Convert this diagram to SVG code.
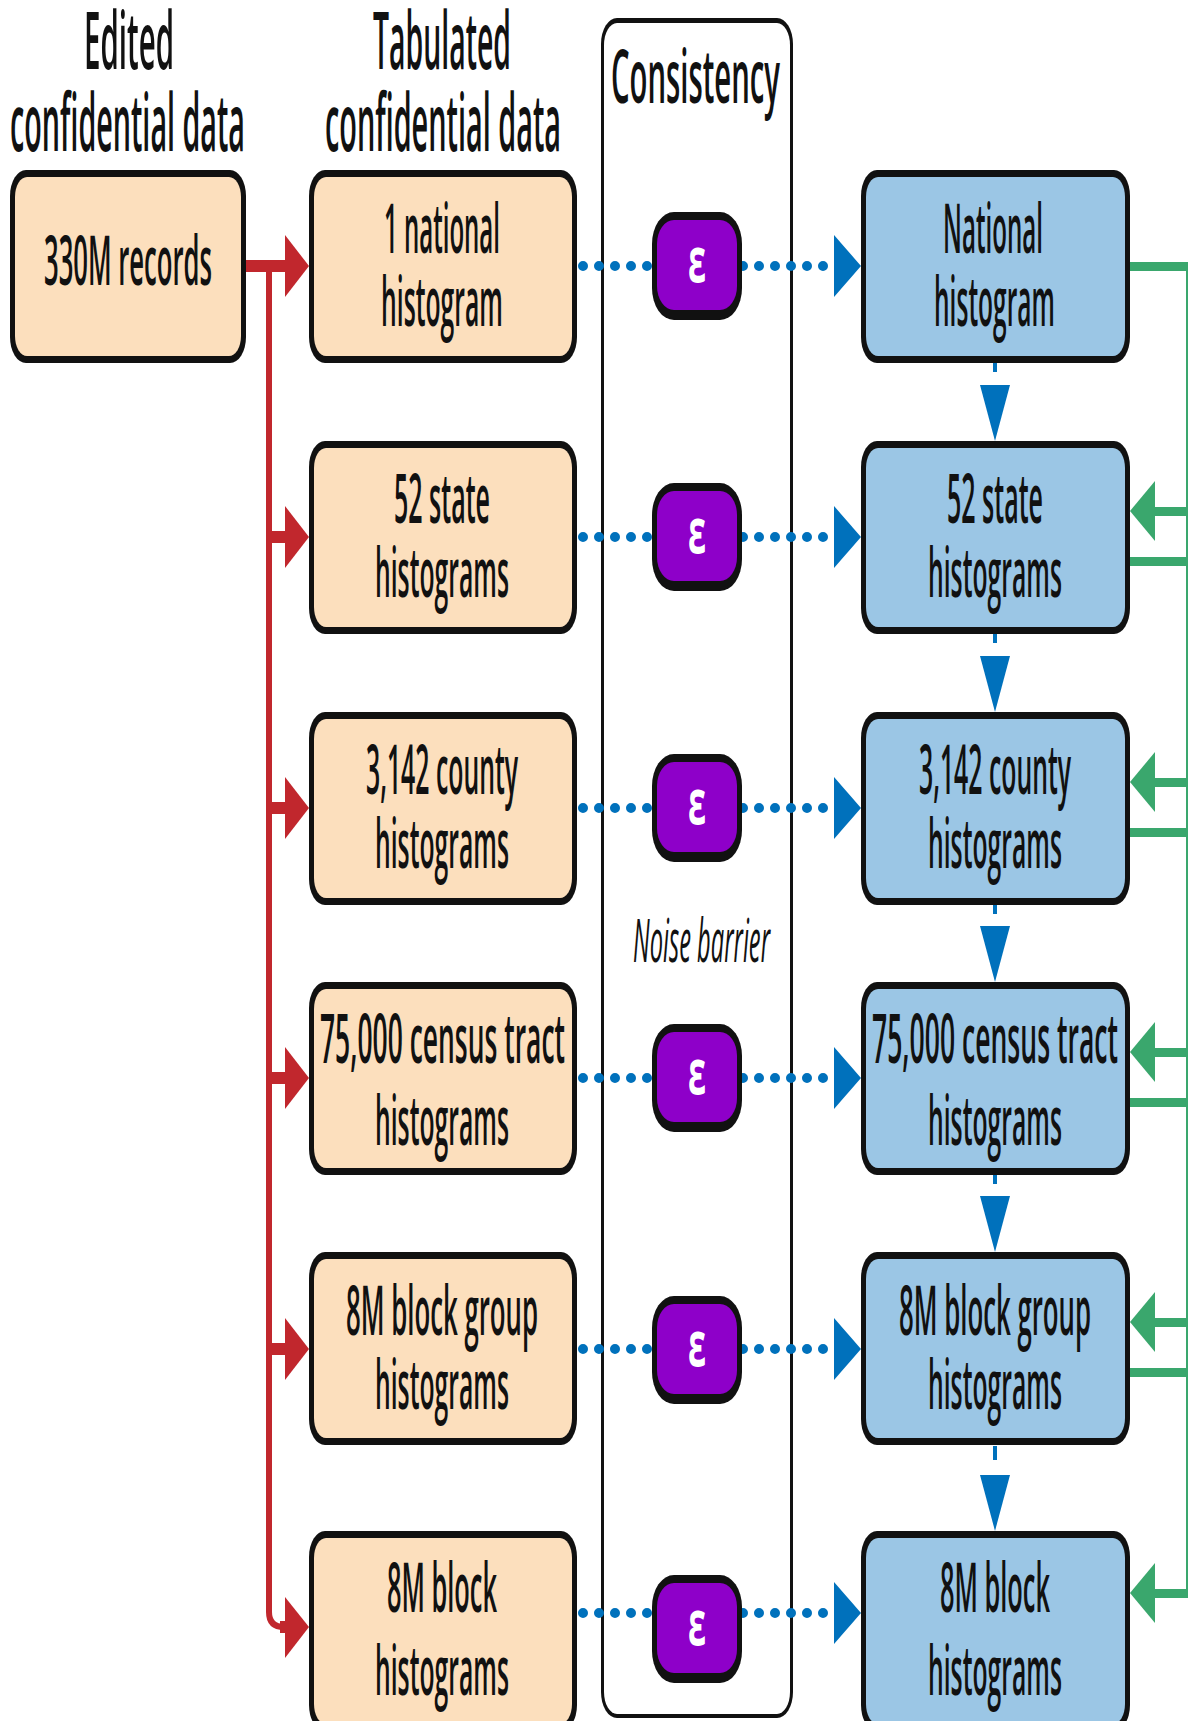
<svg xmlns="http://www.w3.org/2000/svg" width="1188" height="1721" viewBox="0 0 1188 1721">
<style>
.hdr{font-family:"Open Sans","Liberation Sans",sans-serif;font-weight:600;font-size:79px;fill:#111}
.lbl{font-family:"Open Sans","Liberation Sans",sans-serif;font-weight:600;font-size:69px;fill:#111}
.eps{font-family:"Open Sans","DejaVu Sans",sans-serif;font-weight:bold;font-size:62px;fill:#fff}
.nb{font-family:"Open Sans","Liberation Sans",sans-serif;font-style:italic;font-weight:500;font-size:61px;fill:#111}
.edge{fill:#111}
.tan{fill:#fcdfbd}
.blu{fill:#9bc6e5}
.pur{fill:#8e00c9}
.red{fill:#c1272d}
.grn{fill:#3aa76d}
.bl{fill:#0071bc}
.dots{stroke:#0071bc;stroke-width:10;stroke-linecap:round;stroke-dasharray:0 16;fill:none}
</style>

<!-- Headers -->
<g id="headers">
  <text class="hdr" x="84" y="69" textLength="90" lengthAdjust="spacingAndGlyphs">Edited</text>
  <text class="hdr" x="10" y="151" textLength="235" lengthAdjust="spacingAndGlyphs">confidential data</text>
  <text class="hdr" x="373" y="69" textLength="138" lengthAdjust="spacingAndGlyphs">Tabulated</text>
  <text class="hdr" x="325" y="151" textLength="236" lengthAdjust="spacingAndGlyphs">confidential data</text>
</g>

<!-- Consistency container -->
<g id="consistency">
  <rect x="601" y="18" width="192" height="1700" rx="16" ry="26" class="edge"/>
  <rect x="604" y="23" width="186" height="1691" rx="13" ry="22" fill="#fff"/>
  <text class="hdr" x="611" y="103" textLength="169" lengthAdjust="spacingAndGlyphs" style="font-size:75px">Consistency</text>
  <text class="nb" x="633" y="962" textLength="137" lengthAdjust="spacingAndGlyphs">Noise barrier</text>
</g>

<!-- Connectors -->
<g id="connectors">
  <!-- red distribution -->
  <path d="M269,266 V1612 Q269,1627 284,1627" fill="none" stroke="#c1272d" stroke-width="6"/>
  <rect x="246" y="260" width="40" height="12" class="red"/>
  <polygon points="285,235 309,266 285,297" class="red"/>
  <rect x="269" y="531" width="17" height="12" class="red"/>
  <polygon points="285,506 309,537 285,568" class="red"/>
  <rect x="269" y="802" width="17" height="12" class="red"/>
  <polygon points="285,777 309,808 285,839" class="red"/>
  <rect x="269" y="1072" width="17" height="12" class="red"/>
  <polygon points="285,1047 309,1078 285,1109" class="red"/>
  <rect x="269" y="1343" width="17" height="12" class="red"/>
  <polygon points="285,1318 309,1349 285,1380" class="red"/>
  <rect x="280" y="1621" width="6" height="12" class="red"/>
  <polygon points="285,1597 309,1627 285,1658" class="red"/>

  <!-- blue dotted noise lines -->
  <path class="dots" d="M583,266 H834"/>
  <polygon points="834,235 861,266 834,297" class="bl"/>
  <path class="dots" d="M583,537 H834"/>
  <polygon points="834,506 861,537 834,568" class="bl"/>
  <path class="dots" d="M583,808 H834"/>
  <polygon points="834,777 861,808 834,839" class="bl"/>
  <path class="dots" d="M583,1078 H834"/>
  <polygon points="834,1047 861,1078 834,1109" class="bl"/>
  <path class="dots" d="M583,1349 H834"/>
  <polygon points="834,1318 861,1349 834,1380" class="bl"/>
  <path class="dots" d="M583,1613 H834"/>
  <polygon points="834,1582 861,1613 834,1644" class="bl"/>

  <!-- blue vertical hierarchy arrows -->
  <rect x="993" y="363" width="4" height="9" class="bl"/>
  <polygon points="980,385 1010,385 995,441" class="bl"/>
  <rect x="993" y="634" width="4" height="9" class="bl"/>
  <polygon points="980,656 1010,656 995,712" class="bl"/>
  <rect x="993" y="905" width="4" height="9" class="bl"/>
  <polygon points="980,926 1010,926 995,982" class="bl"/>
  <rect x="993" y="1175" width="4" height="9" class="bl"/>
  <polygon points="980,1196 1010,1196 995,1252" class="bl"/>
  <rect x="993" y="1446" width="4" height="14" class="bl"/>
  <polygon points="980,1475 1010,1475 995,1531" class="bl"/>

  <!-- green feedback -->
  <rect x="1186" y="262" width="2" height="1336" class="grn"/>
  <rect x="1128" y="262" width="60" height="9" class="grn"/>
  <rect x="1150" y="507" width="38" height="9" class="grn"/>
  <polygon points="1155,481 1130,511 1155,541" class="grn"/>
  <rect x="1128" y="557" width="60" height="9" class="grn"/>
  <rect x="1150" y="778" width="38" height="9" class="grn"/>
  <polygon points="1155,752 1130,782 1155,812" class="grn"/>
  <rect x="1128" y="828" width="60" height="9" class="grn"/>
  <rect x="1150" y="1048" width="38" height="9" class="grn"/>
  <polygon points="1155,1022 1130,1052 1155,1082" class="grn"/>
  <rect x="1128" y="1098" width="60" height="9" class="grn"/>
  <rect x="1150" y="1318" width="38" height="9" class="grn"/>
  <polygon points="1155,1292 1130,1322 1155,1352" class="grn"/>
  <rect x="1128" y="1368" width="60" height="9" class="grn"/>
  <rect x="1150" y="1589" width="38" height="9" class="grn"/>
  <polygon points="1155,1563 1130,1593 1155,1623" class="grn"/>
</g>

<!-- Source node -->
<g id="node-edited">
  <rect x="10" y="170" width="236" height="193" rx="16" ry="26" class="edge"/>
  <rect x="15" y="177" width="226" height="179" rx="12" ry="20" class="tan"/>
  <text class="lbl" x="44" y="285" textLength="168" lengthAdjust="spacingAndGlyphs">330M records</text>
</g>

<!-- Tabulated nodes -->
<g id="tab-1">
  <rect x="309" y="170" width="268" height="193" rx="16" ry="26" class="edge"/>
  <rect x="314" y="177" width="258" height="179" rx="12" ry="20" class="tan"/>
  <text class="lbl" x="384" y="253" textLength="116" lengthAdjust="spacingAndGlyphs">1 national</text>
  <text class="lbl" x="381" y="326" textLength="122" lengthAdjust="spacingAndGlyphs">histogram</text>
</g>
<g id="tab-2">
  <rect x="309" y="441" width="268" height="193" rx="16" ry="26" class="edge"/>
  <rect x="314" y="448" width="258" height="179" rx="12" ry="20" class="tan"/>
  <text class="lbl" x="394" y="523" textLength="96" lengthAdjust="spacingAndGlyphs">52 state</text>
  <text class="lbl" x="375" y="597" textLength="134" lengthAdjust="spacingAndGlyphs">histograms</text>
</g>
<g id="tab-3">
  <rect x="309" y="712" width="268" height="193" rx="16" ry="26" class="edge"/>
  <rect x="314" y="719" width="258" height="179" rx="12" ry="20" class="tan"/>
  <text class="lbl" x="366" y="794" textLength="152" lengthAdjust="spacingAndGlyphs">3,142 county</text>
  <text class="lbl" x="375" y="868" textLength="134" lengthAdjust="spacingAndGlyphs">histograms</text>
</g>
<g id="tab-4">
  <rect x="309" y="982" width="268" height="193" rx="16" ry="26" class="edge"/>
  <rect x="314" y="989" width="258" height="179" rx="12" ry="20" class="tan"/>
  <text class="lbl" x="320" y="1063" textLength="245" lengthAdjust="spacingAndGlyphs">75,000 census tract</text>
  <text class="lbl" x="375" y="1145" textLength="134" lengthAdjust="spacingAndGlyphs">histograms</text>
</g>
<g id="tab-5">
  <rect x="309" y="1252" width="268" height="193" rx="16" ry="26" class="edge"/>
  <rect x="314" y="1259" width="258" height="179" rx="12" ry="20" class="tan"/>
  <text class="lbl" x="346" y="1335" textLength="192" lengthAdjust="spacingAndGlyphs">8M block group</text>
  <text class="lbl" x="375" y="1409" textLength="134" lengthAdjust="spacingAndGlyphs">histograms</text>
</g>
<g id="tab-6">
  <rect x="309" y="1531" width="268" height="200" rx="16" ry="26" class="edge"/>
  <rect x="314" y="1538" width="258" height="186" rx="12" ry="20" class="tan"/>
  <text class="lbl" x="387" y="1612" textLength="110" lengthAdjust="spacingAndGlyphs">8M block</text>
  <text class="lbl" x="375" y="1695" textLength="134" lengthAdjust="spacingAndGlyphs">histograms</text>
</g>

<!-- Noise (epsilon) nodes -->
<g id="eps-1">
  <rect x="652" y="212" width="90" height="108" rx="22" ry="32" class="edge"/>
  <rect x="657" y="220" width="80" height="90" rx="17" ry="24" class="pur"/>
  <text class="eps" x="688" y="282" textLength="18" lengthAdjust="spacingAndGlyphs">ε</text>
</g>
<g id="eps-2">
  <rect x="652" y="483" width="90" height="108" rx="22" ry="32" class="edge"/>
  <rect x="657" y="491" width="80" height="90" rx="17" ry="24" class="pur"/>
  <text class="eps" x="688" y="553" textLength="18" lengthAdjust="spacingAndGlyphs">ε</text>
</g>
<g id="eps-3">
  <rect x="652" y="754" width="90" height="108" rx="22" ry="32" class="edge"/>
  <rect x="657" y="762" width="80" height="90" rx="17" ry="24" class="pur"/>
  <text class="eps" x="688" y="824" textLength="18" lengthAdjust="spacingAndGlyphs">ε</text>
</g>
<g id="eps-4">
  <rect x="652" y="1024" width="90" height="108" rx="22" ry="32" class="edge"/>
  <rect x="657" y="1032" width="80" height="90" rx="17" ry="24" class="pur"/>
  <text class="eps" x="688" y="1094" textLength="18" lengthAdjust="spacingAndGlyphs">ε</text>
</g>
<g id="eps-5">
  <rect x="652" y="1296" width="90" height="108" rx="22" ry="32" class="edge"/>
  <rect x="657" y="1304" width="80" height="90" rx="17" ry="24" class="pur"/>
  <text class="eps" x="688" y="1366" textLength="18" lengthAdjust="spacingAndGlyphs">ε</text>
</g>
<g id="eps-6">
  <rect x="652" y="1575" width="90" height="108" rx="22" ry="32" class="edge"/>
  <rect x="657" y="1583" width="80" height="90" rx="17" ry="24" class="pur"/>
  <text class="eps" x="688" y="1645" textLength="18" lengthAdjust="spacingAndGlyphs">ε</text>
</g>

<!-- Consistent (blue) nodes -->
<g id="cons-1">
  <rect x="861" y="170" width="269" height="193" rx="16" ry="26" class="edge"/>
  <rect x="866" y="177" width="259" height="179" rx="12" ry="20" class="blu"/>
  <text class="lbl" x="943" y="253" textLength="100" lengthAdjust="spacingAndGlyphs">National</text>
  <text class="lbl" x="934" y="326" textLength="121" lengthAdjust="spacingAndGlyphs">histogram</text>
</g>
<g id="cons-2">
  <rect x="861" y="441" width="269" height="193" rx="16" ry="26" class="edge"/>
  <rect x="866" y="448" width="259" height="179" rx="12" ry="20" class="blu"/>
  <text class="lbl" x="947" y="523" textLength="96" lengthAdjust="spacingAndGlyphs">52 state</text>
  <text class="lbl" x="928" y="597" textLength="134" lengthAdjust="spacingAndGlyphs">histograms</text>
</g>
<g id="cons-3">
  <rect x="861" y="712" width="269" height="193" rx="16" ry="26" class="edge"/>
  <rect x="866" y="719" width="259" height="179" rx="12" ry="20" class="blu"/>
  <text class="lbl" x="919" y="794" textLength="152" lengthAdjust="spacingAndGlyphs">3,142 county</text>
  <text class="lbl" x="928" y="868" textLength="134" lengthAdjust="spacingAndGlyphs">histograms</text>
</g>
<g id="cons-4">
  <rect x="861" y="982" width="269" height="193" rx="16" ry="26" class="edge"/>
  <rect x="866" y="989" width="259" height="179" rx="12" ry="20" class="blu"/>
  <text class="lbl" x="872" y="1063" textLength="246" lengthAdjust="spacingAndGlyphs">75,000 census tract</text>
  <text class="lbl" x="928" y="1145" textLength="134" lengthAdjust="spacingAndGlyphs">histograms</text>
</g>
<g id="cons-5">
  <rect x="861" y="1252" width="269" height="193" rx="16" ry="26" class="edge"/>
  <rect x="866" y="1259" width="259" height="179" rx="12" ry="20" class="blu"/>
  <text class="lbl" x="899" y="1335" textLength="192" lengthAdjust="spacingAndGlyphs">8M block group</text>
  <text class="lbl" x="928" y="1409" textLength="134" lengthAdjust="spacingAndGlyphs">histograms</text>
</g>
<g id="cons-6">
  <rect x="861" y="1531" width="269" height="200" rx="16" ry="26" class="edge"/>
  <rect x="866" y="1538" width="259" height="186" rx="12" ry="20" class="blu"/>
  <text class="lbl" x="940" y="1612" textLength="110" lengthAdjust="spacingAndGlyphs">8M block</text>
  <text class="lbl" x="928" y="1695" textLength="134" lengthAdjust="spacingAndGlyphs">histograms</text>
</g>
</svg>
